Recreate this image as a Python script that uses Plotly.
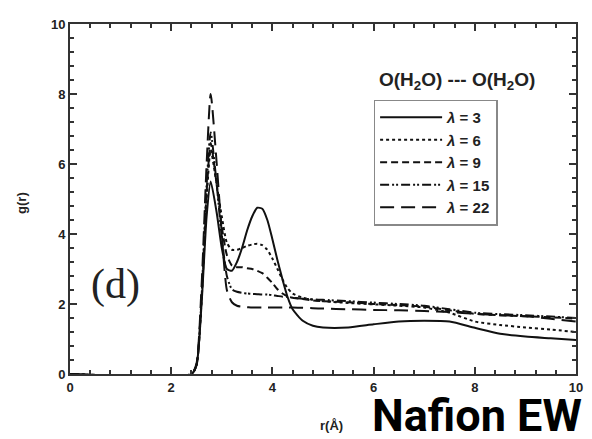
import plotly.graph_objects as go

# ---- data ----
r = [0.0, 2.40, 2.50, 2.60, 2.70, 2.78, 2.90, 3.00, 3.10, 3.20, 3.30, 3.40, 3.50, 3.60,
     3.70, 3.80, 3.90, 4.00, 4.10, 4.20, 4.30, 4.40, 4.60, 4.80, 5.00, 5.50, 6.00, 6.50,
     7.00, 7.50, 8.00, 8.50, 9.00, 9.50, 10.0]

g_l3 = [0, 0, 0.25, 2.0, 4.5, 5.5, 4.6, 3.6, 3.0, 2.95, 3.2, 3.6, 4.1, 4.5,
        4.75, 4.72, 4.4, 3.85, 3.25, 2.7, 2.2, 1.85, 1.52, 1.38, 1.33, 1.33, 1.42, 1.5,
        1.52, 1.5, 1.32, 1.15, 1.07, 1.02, 0.97]
g_l6 = [0, 0, 0.25, 2.1, 5.0, 6.4, 5.4, 4.5, 3.75, 3.55, 3.55, 3.6, 3.66, 3.7,
        3.72, 3.68, 3.55, 3.3, 3.0, 2.7, 2.45, 2.3, 2.18, 2.12, 2.08, 2.03, 1.99, 1.95,
        1.9, 1.75, 1.5, 1.4, 1.33, 1.27, 1.2]
g_l9 = [0, 0, 0.25, 2.2, 5.2, 6.6, 5.4, 4.2, 3.4, 3.1, 3.05, 3.05, 3.02, 3.0,
        2.95, 2.88, 2.75, 2.6, 2.42, 2.3, 2.22, 2.18, 2.14, 2.1, 2.08, 2.05, 2.0, 1.97,
        1.92, 1.82, 1.72, 1.68, 1.65, 1.62, 1.58]
g_l15 = [0, 0, 0.25, 2.2, 5.4, 6.9, 5.4, 3.9, 2.8, 2.42, 2.35, 2.32, 2.3, 2.29,
         2.28, 2.27, 2.27, 2.25, 2.23, 2.21, 2.2, 2.18, 2.15, 2.13, 2.12, 2.08, 2.04, 2.0,
         1.95, 1.85, 1.75, 1.71, 1.68, 1.64, 1.6]
g_l22 = [0, 0, 0.3, 2.5, 6.0, 8.0, 6.0, 4.0, 2.4, 2.05, 1.95, 1.92, 1.91, 1.9,
         1.9, 1.9, 1.9, 1.9, 1.9, 1.9, 1.9, 1.9, 1.89, 1.88, 1.87, 1.85, 1.83, 1.82,
         1.8, 1.77, 1.72, 1.68, 1.65, 1.58, 1.5]

series_names = ["<i>λ</i> = 3", "<i>λ</i> = 6", "<i>λ</i> = 9", "<i>λ</i> = 15", "<i>λ</i> = 22"]
series_values = [g_l3, g_l6, g_l9, g_l15, g_l22]
dashes = ["solid", "dot", "7px,4px", "9px,3px,2px,2px,2px,3px", "14px,7px"]

x_ticks = [0, 2, 4, 6, 8, 10]
y_ticks = [0, 2, 4, 6, 8, 10]

fig = go.Figure()
for name, vals, dash in zip(series_names, series_values, dashes):
    fig.add_trace(go.Scatter(
        x=r, y=vals, name=name, mode="lines",
        line=dict(color="#111111", width=2, dash=dash, shape="spline", smoothing=0.6),
    ))

axis_common = dict(
    showline=True, linecolor="#333333", linewidth=2, mirror="allticks",
    ticks="inside", ticklen=7, tickwidth=1.5, tickcolor="#333333",
    showgrid=False, zeroline=False, ticklabeloverflow="allow",
    tickfont=dict(family="Liberation Sans, Arial", size=13, color="#222222", weight="bold"),
)
fig.update_xaxes(range=[0, 10], tickvals=x_ticks,
                 minor=dict(dtick=0.4, tick0=0, ticks="inside", ticklen=4, tickwidth=1.5, tickcolor="#333333"),
                 **axis_common)
fig.update_yaxes(range=[0, 10], tickvals=y_ticks,
                 minor=dict(dtick=0.4, tick0=0, ticks="inside", ticklen=4, tickwidth=1.5, tickcolor="#333333"),
                 **axis_common)

fig.update_layout(
    width=584, height=431,
    margin=dict(l=62, r=10, t=9, b=65),
    plot_bgcolor="white", paper_bgcolor="white",
    showlegend=True,
    legend=dict(
        x=0.6, y=0.784, xanchor="left", yanchor="top",
        bgcolor="white", bordercolor="#888888", borderwidth=1.5,
        itemwidth=62,
        font=dict(family="Liberation Sans, Arial", size=15, color="#222222", weight="bold"),
    ),
    annotations=[
        dict(text="O(H<sub>2</sub>O) --- O(H<sub>2</sub>O)", xref="paper", yref="paper",
             x=0.765, y=0.838, xanchor="center", yanchor="middle", showarrow=False,
             font=dict(family="Liberation Sans, Arial", size=19, color="#222222", weight="bold")),
        dict(text="(d)", xref="x", yref="y", x=0.9, y=2.55, xanchor="center", yanchor="middle",
             showarrow=False,
             font=dict(family="Liberation Serif, Times New Roman", size=42, color="#222222")),
        dict(text="g(r)", xref="paper", yref="paper", x=-0.096, y=0.49, textangle=-90,
             xanchor="center", yanchor="middle", showarrow=False,
             font=dict(family="Liberation Sans, Arial", size=13, color="#222222", weight="bold")),
        dict(text="r(Å)", xref="paper", yref="paper", x=0.516, y=-0.148,
             xanchor="center", yanchor="middle", showarrow=False,
             font=dict(family="Liberation Sans, Arial", size=13, color="#222222", weight="bold")),
        dict(text="Nafion EW", xref="paper", yref="paper", x=0.805, y=-0.118,
             xanchor="center", yanchor="middle", showarrow=False,
             font=dict(family="Roboto, Liberation Sans", size=45, color="#000000", weight="bold")),
    ],
)

fig.write_html("out.html")
